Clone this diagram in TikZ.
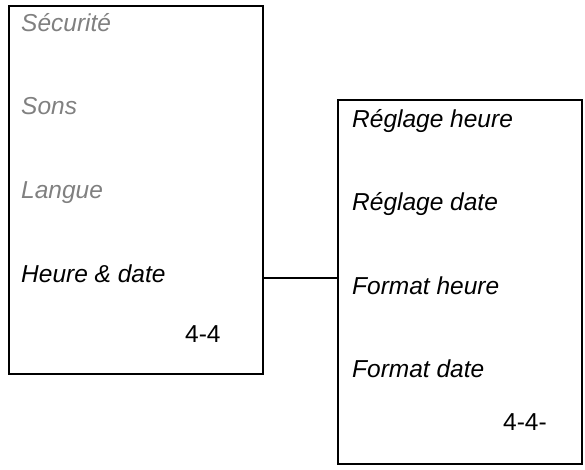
\documentclass[tikz,border=0pt]{standalone}
\usepackage{fontspec}
\setmainfont{Liberation Sans}
\usepackage{xcolor}
\definecolor{menuGrey}{RGB}{128, 128, 128}
\definecolor{menuDark}{RGB}{0, 0, 0}
\usetikzlibrary{positioning}

\begin{document}
\begin{tikzpicture}[
    x=1pt, y=-1pt,
    menuBox/.style={
        rectangle, draw=menuDark, line width=2pt,
        inner sep=0pt, anchor=north west
    },
    itemOff/.style={
        anchor=base west, inner sep=0pt, text=menuGrey,
        font=\fontsize{24.5pt}{29pt}\selectfont\itshape
    },
    itemOn/.style={
        anchor=base west, inner sep=0pt, text=menuDark,
        font=\fontsize{24.5pt}{29pt}\selectfont\itshape
    },
    pageNum/.style={
        anchor=base west, inner sep=0pt, text=menuDark,
        font=\fontsize{24.5pt}{29pt}\selectfont
    },
    link/.style={
        draw=menuDark, line width=1.7pt
    }
]
    \useasboundingbox (0,0) rectangle (585,470);

    % Menu boxes
    \node[menuBox, minimum width=254pt, minimum height=368pt] (boxMenu) at (8,5) {};
    \node[menuBox, minimum width=244pt, minimum height=364pt] (boxSub) at (337,99) {};

    % Main menu entries
    \node[itemOff] (mSecu) at (21,32) {Sécurité};
    \node[itemOff] (mSons) at (21,115) {Sons};
    \node[itemOff] (mLang) at (21,198) {Langue};
    \node[itemOn] (mHeure) at (21,282) {Heure \& date};
    \node[pageNum] (mPage) at (185,342) {4-4};

    % Sub menu entries
    \node[itemOn] (sRegH) at (352,128) {Réglage heure};
    \node[itemOn] (sRegD) at (352,211) {Réglage date};
    \node[itemOn] (sFmtH) at (352,294) {Format heure};
    \node[itemOn] (sFmtD) at (352,377) {Format date};
    \node[pageNum] (sPage) at (503,430) {4-4-};

    % Link to sub menu
    \draw[link] ([yshift=-5pt]boxMenu.east |- mHeure) -- ([yshift=-5pt]boxSub.west |- mHeure);

\end{tikzpicture}
\end{document}
